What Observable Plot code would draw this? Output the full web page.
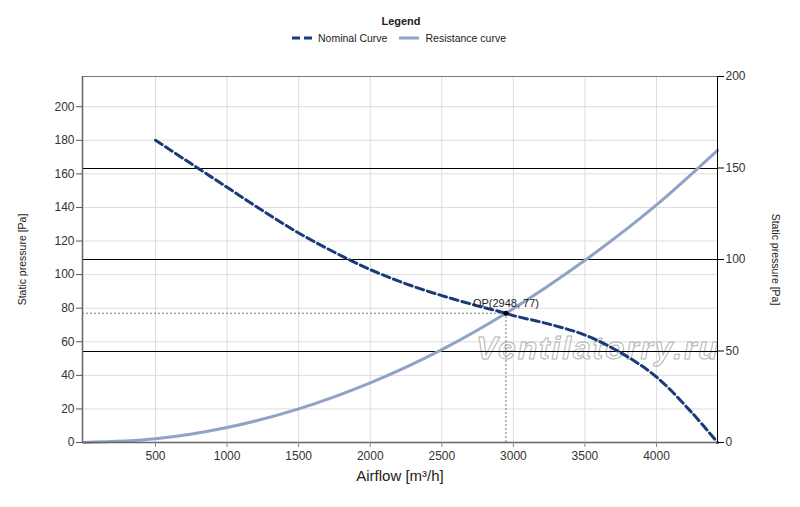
<!DOCTYPE html>
<html>
<head>
<meta charset="utf-8">
<script src="https://cdn.jsdelivr.net/npm/d3@7"></script>
<script src="https://cdn.jsdelivr.net/npm/@observablehq/plot@0.6"></script>
<style>
  body { margin: 0; background: white; }
  #wrap { position: relative; width: 800px; height: 507px; font-family: "Liberation Sans", Arial, sans-serif; }
  #legend { position: absolute; left: 0; top: 0; width: 800px; z-index: 2; color: #222; font-size: 10.5px; }
  #legend .title { position: absolute; top: 15px; left: 1px; width: 800px; text-align: center; font-weight: bold; font-size: 11px; }
  #legend .row { position: absolute; top: 32px; left: 291px; display: flex; align-items: center; white-space: nowrap; }
  #legend .item { display: flex; align-items: center; margin-right: 11px; }
  #legend svg { margin-right: 5px; }
</style>
</head>
<body>
<div id="wrap">
  <div id="legend">
    <div class="title">Legend</div>
    <div class="row" id="legendRow"></div>
  </div>
  <div id="chart"></div>
</div>
<script>
// ---- data ----
const seriesNames = ["Nominal Curve", "Resistance curve"];
const seriesColors = ["#1b3a78", "#8ea3c6"];

const nominalFlow = [500, 750, 1000, 1250, 1500, 1750, 2000, 2250, 2500, 2750, 2948, 3000, 3250, 3500, 3750, 4000, 4250, 4426];
const nominalPressure = [180, 166, 152, 138, 124.8, 113.3, 103, 94.5, 87.5, 81.4, 77, 75.6, 70.5, 64, 53.5, 39, 17.5, 0];

const resistanceFlow = [0, 500, 1000, 1500, 2000, 2500, 2948, 3500, 4000, 4426];
const resistancePressure = [0, 2.2, 8.9, 20, 35.5, 55.3, 77, 108.5, 141.5, 174];

const opFlow = [2948];
const opPressure = [77];
const opLabels = ["OP(2948, 77)"];

const xTicks = [500, 1000, 1500, 2000, 2500, 3000, 3500, 4000];
const leftTicks = [0, 20, 40, 60, 80, 100, 120, 140, 160, 180, 200];
const rightTicks = [0, 50, 100, 150, 200];
const rightLines = [50, 100, 150];
const xDomain = [-10, 4426];
const yDomain = [0, 218];
const rightMax = 200;

const xTitle = "Airflow [m³/h]";
const yTitle = "Static pressure [Pa]";
const watermark = "Ventilatorry.ru";

// ---- build ----
const ratio = yDomain[1] / rightMax;
const nominal = nominalFlow.map((q, i) => ({q, p: nominalPressure[i]}));
const resistance = resistanceFlow.map((q, i) => ({q, p: resistancePressure[i]}));
const op = opFlow.map((q, i) => ({q, p: opPressure[i], label: opLabels[i]}));

const chart = Plot.plot({
  width: 800,
  height: 507,
  marginTop: 76,
  marginBottom: 65,
  marginLeft: 82,
  marginRight: 83,
  style: {fontFamily: "'Liberation Sans', Arial, sans-serif", fontSize: "12px", color: "#333", background: "white"},
  x: {domain: xDomain},
  y: {domain: yDomain},
  marks: [
    Plot.gridX(xTicks, {stroke: "#dddddd", strokeOpacity: 1}),
    Plot.gridY(leftTicks.filter(d => d > 0), {stroke: "#dddddd", strokeOpacity: 1}),
    Plot.text([watermark], {
      text: d => d, frameAnchor: "right", textAnchor: "end", dx: 2, dy: 89,
      fontSize: 32, fontWeight: "bold", fontStyle: "italic",
      fill: "white", fillOpacity: 0.6, stroke: "#b4b4b4", strokeWidth: 1, paintOrder: "fill"
    }),
    Plot.ruleY(rightLines.map(v => v * ratio), {stroke: "black", strokeWidth: 1, shapeRendering: "crispEdges"}),
    Plot.ruleY(op, {y: "p", x1: () => xDomain[0], x2: "q", stroke: "#777", strokeWidth: 1, strokeDasharray: "2,2"}),
    Plot.ruleX(op, {x: "q", y1: () => 0, y2: "p", stroke: "#777", strokeWidth: 1, strokeDasharray: "2,2"}),
    Plot.line(resistance, {x: "q", y: "p", stroke: seriesColors[1], strokeWidth: 3, curve: "monotone-x"}),
    Plot.line(nominal, {x: "q", y: "p", stroke: seriesColors[0], strokeWidth: 3, strokeDasharray: "8,4", curve: "catmull-rom"}),
    Plot.dot(op, {x: "q", y: "p", r: 2.5, fill: "black", stroke: "none"}),
    Plot.text(op, {x: "q", y: "p", text: "label", dy: -10, dx: 0, fontSize: 11, fill: "#222"}),
    // frame lines
    Plot.ruleY([yDomain[1]], {stroke: "#777", strokeWidth: 1}),
    Plot.ruleX([xDomain[0]], {stroke: "#666", strokeWidth: 1.5}),
    Plot.ruleY([yDomain[0]], {stroke: "#666", strokeWidth: 1.5}),
    Plot.ruleX([xDomain[1]], {stroke: "black", strokeWidth: 1}),
    // axes
    Plot.axisX(xTicks, {anchor: "bottom", tickSize: 5, tickPadding: 4, stroke: "#888", label: null, fontSize: 12, tickFormat: d => String(d)}),
    Plot.axisY(leftTicks, {anchor: "left", tickSize: 6, tickPadding: 2, stroke: "#555", label: null, fontSize: 12, tickFormat: d => String(d)}),
    Plot.axisY(rightTicks.map(v => v * ratio), {anchor: "right", tickSize: 6, tickPadding: 2, stroke: "black", label: null, fontSize: 12, tickFormat: d => String(Math.round(d / ratio))}),
    // titles
    Plot.text([yTitle], {text: d => d, frameAnchor: "left", textAnchor: "middle", dx: -60, rotate: -90, fontSize: 10.5, fill: "#222"}),
    Plot.text([yTitle], {text: d => d, frameAnchor: "right", textAnchor: "middle", dx: 58, rotate: 90, fontSize: 10.5, fill: "#222"}),
    Plot.text([xTitle], {text: d => d, frameAnchor: "bottom", dy: 38, fontSize: 15, fill: "#222"})
  ]
});
document.getElementById("chart").appendChild(chart);

// watermark letter spacing
d3.select(chart).selectAll("text").filter(function() { return this.textContent === watermark; })
  .style("letter-spacing", "1.8px");

// ---- legend ----
const row = d3.select("#legendRow");
seriesNames.forEach((name, i) => {
  const item = row.append("div").attr("class", "item");
  const s = item.append("svg").attr("width", 22).attr("height", 6);
  s.append("line").attr("x1", 1).attr("x2", 21).attr("y1", 3).attr("y2", 3)
    .attr("stroke", seriesColors[i]).attr("stroke-width", 3)
    .attr("stroke-dasharray", i === 0 ? "8,4" : null);
  item.append("span").text(name);
});
</script>
</body>
</html>
